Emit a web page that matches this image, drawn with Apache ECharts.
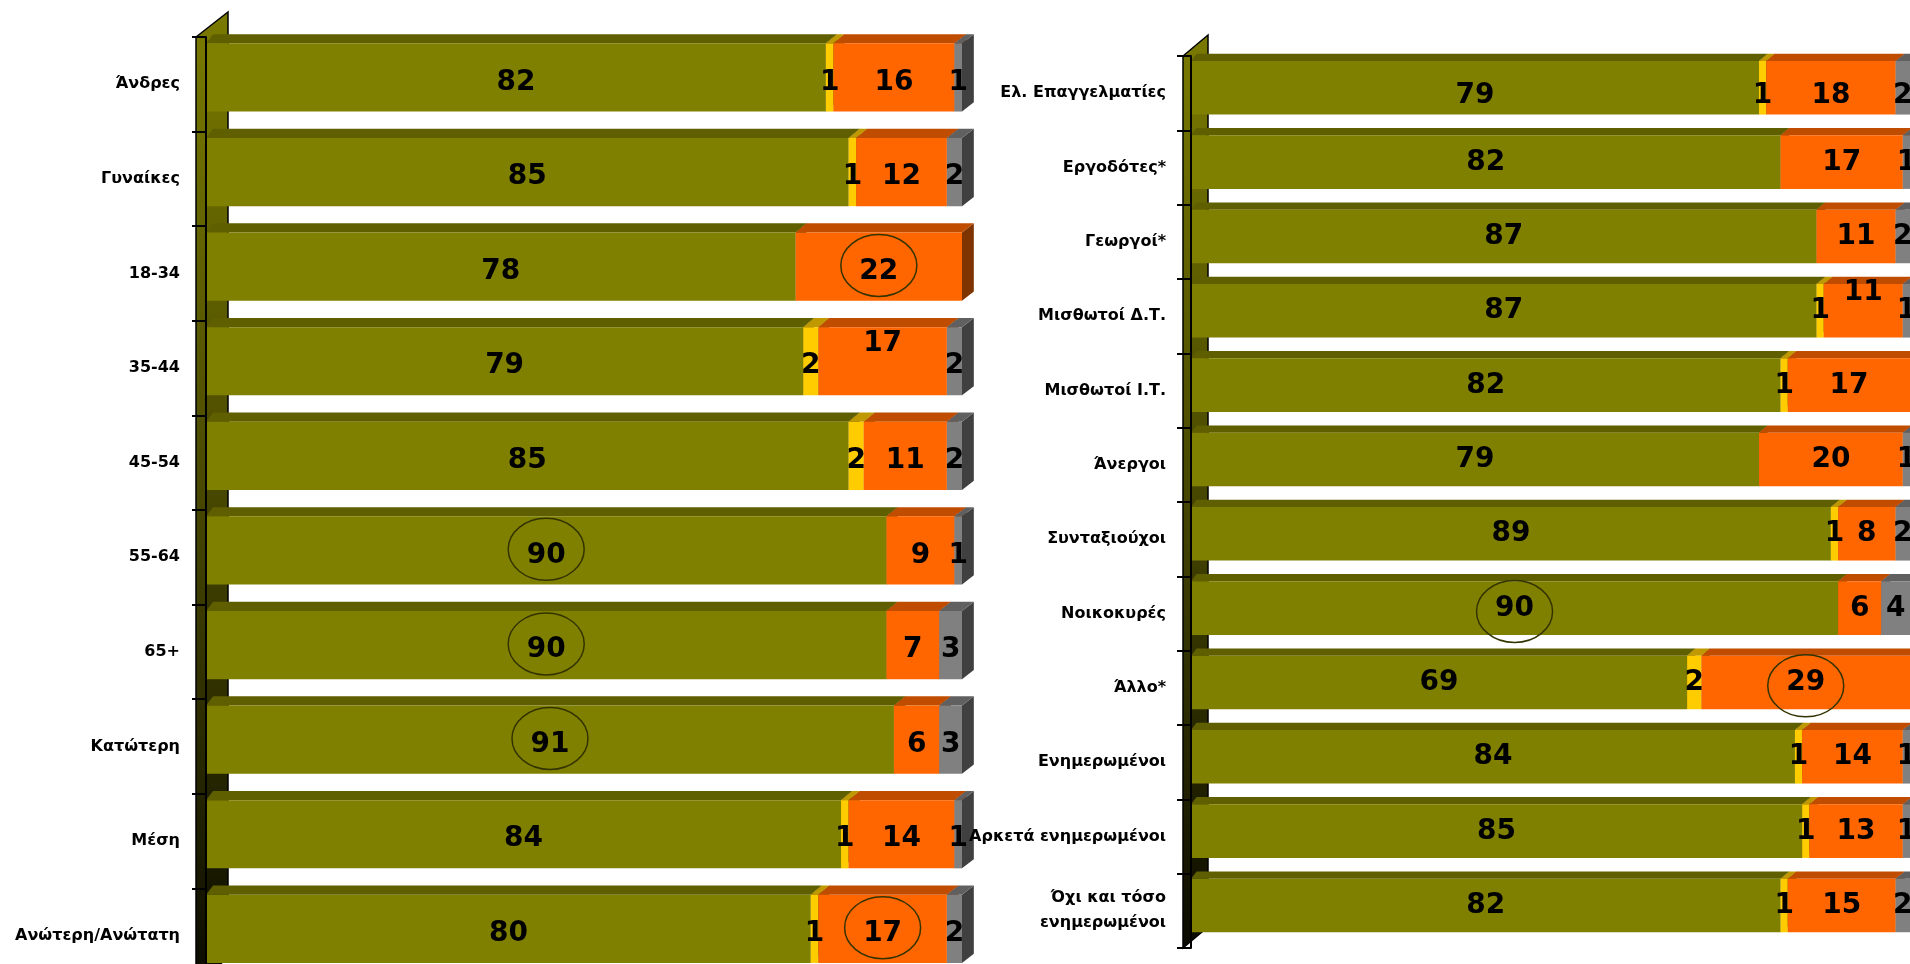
<!DOCTYPE html>
<html><head><meta charset="utf-8">
<script src="https://cdn.jsdelivr.net/npm/echarts@6/dist/echarts.min.js"></script>
<style>html,body{margin:0;padding:0;background:#fff;overflow:hidden}#chart{width:1910px;height:964px;}</style>
</head><body><div id="chart"></div>
<script>
// ---------- data ----------
const leftCategories = ['Άνδρες','Γυναίκες','18-34','35-44','45-54','55-64','65+','Κατώτερη','Μέση','Ανώτερη/Ανώτατη'];
const leftPositive  = [82,85,78,79,85,90,90,91,84,80];
const leftYellow    = [1,1,0,2,2,0,0,0,1,1];
const leftNegative  = [16,12,22,17,11,9,7,6,14,17];
const leftNoAnswer  = [1,2,0,2,2,1,3,3,1,2];

const rightCategories = ['Ελ. Επαγγελματίες','Εργοδότες*','Γεωργοί*','Μισθωτοί Δ.Τ.','Μισθωτοί Ι.Τ.','Άνεργοι','Συνταξιούχοι','Νοικοκυρές','Άλλο*','Ενημερωμένοι','Αρκετά ενημερωμένοι','Όχι και τόσο\nενημερωμένοι'];
const rightPositive = [79,82,87,87,82,79,89,90,69,84,85,82];
const rightYellow   = [1,0,0,1,1,0,1,0,2,1,1,1];
const rightNegative = [18,17,11,11,17,20,8,6,29,14,13,15];
const rightNoAnswer = [2,1,2,1,0,1,2,4,0,1,1,2];

// circled labels: [category index, segment index]
const leftCircled  = [[2,2],[5,0],[6,0],[7,0],[9,2]];
const rightCircled = [[7,0],[8,2]];
// labels nudged upward: [category index, segment index]
const leftRaised  = [[3,2]];
const rightRaised = [[3,2]];
// rows whose labels sit lower: category indices
const leftLoweredRows  = [];
const rightLoweredRows = [0];

// ---------- styling ----------
const segColors = [
  {front:'#808000', top:'#5f5f00', side:'#3f3f00'},
  {front:'#ffcc00', top:'#c09900', side:'#806600'},
  {front:'#ff6600', top:'#c04c00', side:'#7f3300'},
  {front:'#808080', top:'#606060', side:'#404040'}
];
const geo = [
  {axisOff:10, wallDx:32, wallDy:25, labelDy:-0.02, ellDy:-8},
  {axisOff:8,  wallDx:25, wallDy:21, labelDy:-0.07, ellDy:-2}
];

function has(list, i, s){ return list.some(p => p[0]===i && p[1]===s) ? 1 : 0; }

function makeRender(s, g){
  const col = segColors[s];
  const G = geo[g];
  return function(params, api){
    const v = api.value(3);
    if (!(v > 0)) return null;
    const a = api.coord([api.value(0), api.value(2)]);
    const b = api.coord([api.value(1), api.value(2)]);
    const band = api.size([0, 1])[1];
    const cs = params.coordSys;
    const c = a[1];
    const top = c - 0.433*band, bot = c + 0.288*band, dy = 0.097*band;
    const dxAt = x => band*(0.075 + 0.05*(x - cs.x)/cs.width);
    const x0 = a[0], x1 = b[0];
    const d0 = dxAt(x0), d1 = dxAt(x1);
    const ly = c + G.labelDy*band - (api.value(5) ? 0.24*band : 0) + (api.value(6) ? 0.1*band : 0);
    const children = [
      {type:'polygon', shape:{points:[[x1,top],[x1+d1,top-dy],[x1+d1,bot-dy],[x1,bot]]}, style:{fill:col.side}},
      {type:'polygon', shape:{points:[[x0,top],[x0+d0,top-dy],[x1+d1,top-dy],[x1,top]]}, style:{fill:col.top}},
      {type:'rect', shape:{x:x0, y:top, width:x1-x0, height:bot-top}, style:{fill:col.front}},
      {type:'text', x:(x0+x1)/2, y:ly, z2:100,
        style:{text:String(v), fill:'#000', font:'bold 28px "DejaVu Sans"', align:'center', verticalAlign:'middle'}}
    ];
    if (api.value(4)) {
      children.push({type:'ellipse', z2:90, shape:{cx:(x0+x1)/2, cy:c + G.ellDy, rx:38, ry:31},
        style:{fill:'none', stroke:'#333300', lineWidth:1.5}});
    }
    return {type:'group', children};
  };
}

function buildSeries(g, segments, circled, raised, lowered){
  const out = [];
  out.push({
    type:'custom', xAxisIndex:g, yAxisIndex:g, z:1, silent:true, data:[[0,0]],
    renderItem:function(params){
      const cs = params.coordSys, G = geo[g];
      const ax = cs.x - G.axisOff;
      return {type:'polygon', shape:{points:[[ax,cs.y],[ax+G.wallDx,cs.y-G.wallDy],[ax+G.wallDx,cs.y+cs.height-G.wallDy],[ax,cs.y+cs.height]]},
        style:{fill:new echarts.graphic.LinearGradient(0,0,0,1,[
          {offset:0,color:'#7a7a00'},{offset:0.45,color:'#4d4d00'},{offset:0.8,color:'#242400'},{offset:1,color:'#0a0a00'}]),
          stroke:'#000', lineWidth:1.5}};
    }
  });
  segments.forEach((vals, s) => {
    const data = vals.map((v, i) => {
      let start = 0;
      for (let k = 0; k < s; k++) start += segments[k][i];
      return [start, start + v, i, v, has(circled, i, s), has(raised, i, s), lowered.indexOf(i) >= 0 ? 1 : 0];
    });
    out.push({type:'custom', xAxisIndex:g, yAxisIndex:g, z:3, silent:true,
      encode:{x:[0,1], y:2}, data, renderItem:makeRender(s, g)});
  });
  return out;
}

const yAxisCommon = (cats, off, margin) => ({
  type:'category', inverse:true, data:cats, offset:off, z:10,
  axisLine:{show:true, lineStyle:{color:'#000', width:2}},
  axisTick:{show:true, length:14, lineStyle:{color:'#000', width:2}},
  axisLabel:{margin:margin, color:'#000', fontFamily:'DejaVu Sans', fontWeight:'bold', fontSize:16, lineHeight:25}
});

const chart = echarts.init(document.getElementById('chart'), null, {renderer:'canvas'});
chart.setOption({
  backgroundColor:'#ffffff',
  animation:false,
  grid:[
    {left:206, top:37, width:756, height:946, outerBoundsMode:'none', containLabel:false},
    {left:1191, top:56, width:719, height:892, outerBoundsMode:'none', containLabel:false}
  ],
  xAxis:[
    {type:'value', gridIndex:0, min:0, max:100, show:false},
    {type:'value', gridIndex:1, min:0, max:100, show:false}
  ],
  yAxis:[
    Object.assign({gridIndex:0}, yAxisCommon(leftCategories, 10, 16)),
    Object.assign({gridIndex:1}, yAxisCommon(rightCategories, 8, 17))
  ],
  series:[].concat(
    buildSeries(0, [leftPositive, leftYellow, leftNegative, leftNoAnswer], leftCircled, leftRaised, leftLoweredRows),
    buildSeries(1, [rightPositive, rightYellow, rightNegative, rightNoAnswer], rightCircled, rightRaised, rightLoweredRows)
  )
});
</script>
</body></html>
